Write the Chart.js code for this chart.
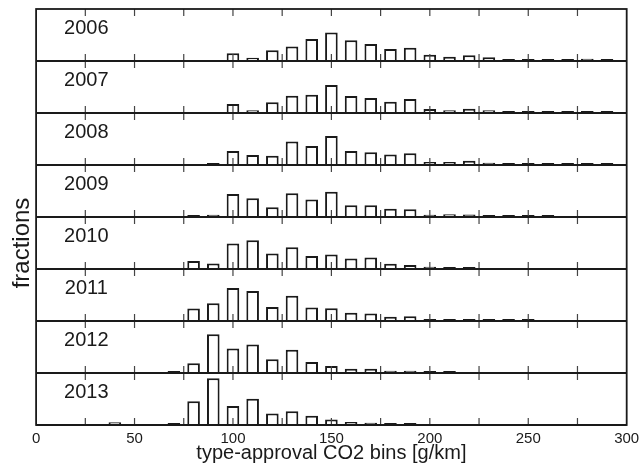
<!DOCTYPE html>
<html lang="en">
<head>
    <meta charset="UTF-8">
    <title>CO2 bins by year</title>
    <script src="https://cdn.jsdelivr.net/npm/chart.js"></script>
    <style>
        body { margin: 0; background: #fff; }
        #wrap { width: 641px; height: 470px; }
    </style>
</head>
<body>
    <div id="wrap"><canvas id="myChart"></canvas></div>

    <script>
        // bin centres [g/km]
        var bins = [40, 50, 60, 70, 80, 90, 100, 110, 120, 130, 140, 150, 160,
                    170, 180, 190, 200, 210, 220, 230, 240, 250, 260, 270, 280, 290];

        var years = ['2006', '2007', '2008', '2009', '2010', '2011', '2012', '2013'];

        // fraction of registrations per bin, one array per year (null = empty bin)
        var f2006 = [null, null, null, null, null, null, .044, .019, .062, .083, .127, .164, .120,
                     .098, .069, .077, .036, .025, .033, .021, .012, .012, .011, .011, .013, .011];
        var f2007 = [null, null, null, null, null, null, .052, .016, .062, .100, .106, .162, .098,
                     .087, .065, .081, .023, .016, .025, .016, .012, .012, .011, .011, .011, .011];
        var f2008 = [null, null, null, null, null, .011, .081, .058, .053, .135, .110, .168, .081,
                     .073, .060, .068, .018, .017, .025, .013, .012, .011, .011, .011, .011, .011];
        var f2009 = [null, null, null, null, .011, .013, .133, .108, .056, .137, .101, .145, .068,
                     .068, .048, .045, .013, .016, .014, .011, .011, .011, .011, null, null, null];
        var f2010 = [null, null, null, null, .046, .032, .147, .166, .090, .126, .075, .084, .061,
                     .066, .030, .023, .013, .011, .011, null, null, null, null, null, null, null];
        var f2011 = [null, null, null, null, .072, .102, .191, .173, .081, .145, .078, .073, .048,
                     .043, .025, .028, .011, .011, .011, .011, .011, .011, null, null, null, null];
        var f2012 = [null, null, null, .011, .056, .224, .142, .164, .079, .134, .064, .040, .024,
                     .024, .013, .013, .011, .011, null, null, null, null, null, null, null, null];
        var f2013 = [.016, null, null, .011, .137, .270, .110, .151, .067, .079, .054, .032, .017,
                     .013, .011, .011, null, null, null, null, null, null, null, null, null, null];

        var fractions = [f2006, f2007, f2008, f2009, f2010, f2011, f2012, f2013];

        var ink = '#1a1a1a';
        Chart.defaults.font.family = '"Liberation Sans", Arial, sans-serif';
        Chart.defaults.color = ink;

        // frame, panel base lines, inward ticks and year labels
        var panelFrame = {
            id: 'panelFrame',
            afterDatasetsDraw(chart) {
                var ctx = chart.ctx;
                var area = chart.chartArea;
                var xs = chart.scales.x;
                ctx.save();

                ctx.strokeStyle = '#444';
                ctx.lineWidth = 1.2;
                years.forEach(function (yr, i) {
                    var s = chart.scales['y' + i];
                    xs.ticks.forEach(function (t) {
                        if (t.value <= xs.min || t.value >= xs.max) return;
                        var px = xs.getPixelForValue(t.value);
                        ctx.beginPath();
                        ctx.moveTo(px, s.top);
                        ctx.lineTo(px, s.top + 7);
                        ctx.moveTo(px, s.bottom);
                        ctx.lineTo(px, s.bottom - 7);
                        ctx.stroke();
                    });
                });

                ctx.strokeStyle = ink;
                ctx.lineWidth = 1.8;
                years.forEach(function (yr, i) {
                    var s = chart.scales['y' + i];
                    var y0 = s.getPixelForValue(0);
                    ctx.beginPath();
                    ctx.moveTo(area.left, y0);
                    ctx.lineTo(area.right, y0);
                    ctx.stroke();
                });
                ctx.strokeRect(area.left, area.top, area.right - area.left, area.bottom - area.top);

                ctx.fillStyle = ink;
                ctx.font = '20px "Liberation Sans", Arial, sans-serif';
                ctx.textAlign = 'center';
                ctx.textBaseline = 'middle';
                years.forEach(function (yr, i) {
                    var s = chart.scales['y' + i];
                    ctx.fillText(yr, xs.getPixelForValue(25.5), s.top + 19);
                });
                ctx.restore();
            }
        };

        var datasets = [];
        var scales = {
            x: {
                type: 'linear',
                min: 0,
                max: 300,
                offset: false,
                grid: { display: false, drawTicks: false, offset: false },
                border: { display: false },
                ticks: {
                    stepSize: 25,
                    autoSkip: false,
                    maxRotation: 0,
                    padding: 1.8,
                    font: { size: 15, lineHeight: 1.6 },
                    callback: function (v) { return v % 50 === 0 ? v : ''; }
                },
                title: {
                    display: true,
                    text: 'type-approval CO2 bins [g/km]',
                    font: { size: 20, lineHeight: 0.5 },
                    padding: { top: -4.6, bottom: 4.6 }
                }
            }
        };

        years.forEach(function (yr, i) {
            datasets.push({
                label: yr,
                data: bins.map(function (b, j) { return { x: b, y: fractions[i][j] }; })
                          .filter(function (p) { return p.y !== null; }),
                yAxisID: 'y' + i,
                xAxisID: 'x',
                grouped: false,
                backgroundColor: '#fff',
                borderColor: ink,
                borderWidth: 2,
                categoryPercentage: 1,
                barPercentage: 0.64
            });
            scales['y' + i] = {
                type: 'linear',
                position: 'left',
                stack: 'years',
                stackWeight: 1,
                weight: 8 - i,
                min: 0,
                max: 0.3,
                ticks: { display: false },
                grid: { display: false, drawTicks: false },
                border: { display: false },
                title: {
                    display: i === 4,
                    text: 'fractions',
                    font: { size: 24, lineHeight: 1.15 },
                    padding: { top: 1.5, bottom: 0 }
                }
            };
        });

        var ctx = document.getElementById('myChart').getContext('2d');
        var myChart = new Chart(ctx, {
            type: 'bar',
            data: { datasets: datasets },
            options: {
                responsive: true,
                maintainAspectRatio: false,
                animation: false,
                layout: { padding: { top: 9, right: 9, bottom: 7.4, left: 7 } },
                plugins: {
                    legend: { display: false },
                    tooltip: { enabled: false }
                },
                scales: scales
            },
            plugins: [panelFrame]
        });
    </script>
</body>
</html>
